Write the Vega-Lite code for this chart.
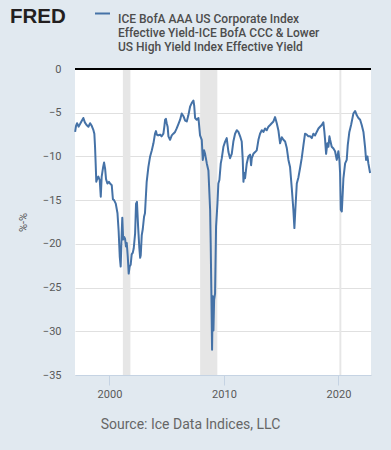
{
  "$schema": "https://vega.github.io/schema/vega-lite/v6.json",
  "width": 296,
  "height": 306,
  "autosize": {"type": "none"},
  "padding": {"left": 75, "top": 69, "right": 20, "bottom": 75},
  "background": "#e1e9f0",
  "config": {
    "font": "Roboto",
    "view": {"fill": "white", "stroke": null}
  },
  "title": {
    "text": "FRED",
    "anchor": "start",
    "frame": "group",
    "dx": -65,
    "dy": 24,
    "offset": -14,
    "baseline": "alphabetic",
    "font": "Liberation Sans",
    "fontSize": 20.5,
    "fontWeight": "bold",
    "color": "#231f20"
  },
  "datasets": {
    "series": [
      {"year": 1997.00, "value": -7.2},
      {"year": 1997.08, "value": -6.5},
      {"year": 1997.17, "value": -6.2},
      {"year": 1997.30, "value": -6.6},
      {"year": 1997.43, "value": -6.3},
      {"year": 1997.55, "value": -6.0},
      {"year": 1997.72, "value": -5.6},
      {"year": 1997.85, "value": -6.1},
      {"year": 1998.00, "value": -6.4},
      {"year": 1998.16, "value": -6.6},
      {"year": 1998.31, "value": -6.2},
      {"year": 1998.45, "value": -6.5},
      {"year": 1998.60, "value": -7.0},
      {"year": 1998.68, "value": -7.4},
      {"year": 1998.74, "value": -8.9},
      {"year": 1998.80, "value": -11.0},
      {"year": 1998.85, "value": -12.9},
      {"year": 1998.95, "value": -12.5},
      {"year": 1999.03, "value": -12.3},
      {"year": 1999.15, "value": -12.7},
      {"year": 1999.24, "value": -14.6},
      {"year": 1999.32, "value": -12.3},
      {"year": 1999.45, "value": -11.2},
      {"year": 1999.53, "value": -10.7},
      {"year": 1999.62, "value": -11.4},
      {"year": 1999.70, "value": -12.6},
      {"year": 1999.82, "value": -13.1},
      {"year": 1999.95, "value": -12.9},
      {"year": 2000.05, "value": -13.1},
      {"year": 2000.20, "value": -13.3},
      {"year": 2000.30, "value": -14.9},
      {"year": 2000.40, "value": -15.0},
      {"year": 2000.55, "value": -15.4},
      {"year": 2000.70, "value": -16.5},
      {"year": 2000.80, "value": -18.5},
      {"year": 2000.90, "value": -21.5},
      {"year": 2000.98, "value": -22.6},
      {"year": 2001.05, "value": -19.5},
      {"year": 2001.12, "value": -17.0},
      {"year": 2001.20, "value": -19.5},
      {"year": 2001.28, "value": -19.2},
      {"year": 2001.36, "value": -19.4},
      {"year": 2001.44, "value": -20.3},
      {"year": 2001.51, "value": -19.9},
      {"year": 2001.60, "value": -21.5},
      {"year": 2001.68, "value": -23.4},
      {"year": 2001.76, "value": -22.6},
      {"year": 2001.85, "value": -22.4},
      {"year": 2001.94, "value": -21.2},
      {"year": 2002.04, "value": -21.0},
      {"year": 2002.12, "value": -20.5},
      {"year": 2002.24, "value": -18.8},
      {"year": 2002.32, "value": -15.4},
      {"year": 2002.40, "value": -15.2},
      {"year": 2002.50, "value": -18.0},
      {"year": 2002.61, "value": -20.5},
      {"year": 2002.68, "value": -21.6},
      {"year": 2002.73, "value": -21.3},
      {"year": 2002.82, "value": -19.0},
      {"year": 2002.91, "value": -18.3},
      {"year": 2003.02, "value": -16.9},
      {"year": 2003.10, "value": -16.5},
      {"year": 2003.25, "value": -12.9},
      {"year": 2003.40, "value": -11.2},
      {"year": 2003.55, "value": -10.0},
      {"year": 2003.70, "value": -9.3},
      {"year": 2003.84, "value": -8.5},
      {"year": 2003.98, "value": -7.4},
      {"year": 2004.06, "value": -7.1},
      {"year": 2004.13, "value": -7.5},
      {"year": 2004.25, "value": -7.6},
      {"year": 2004.42, "value": -7.5},
      {"year": 2004.55, "value": -7.7},
      {"year": 2004.71, "value": -7.4},
      {"year": 2004.80, "value": -6.5},
      {"year": 2004.86, "value": -5.8},
      {"year": 2004.93, "value": -5.7},
      {"year": 2005.00, "value": -6.2},
      {"year": 2005.08, "value": -6.6},
      {"year": 2005.15, "value": -7.7},
      {"year": 2005.29, "value": -8.1},
      {"year": 2005.44, "value": -7.6},
      {"year": 2005.58, "value": -7.4},
      {"year": 2005.73, "value": -7.2},
      {"year": 2005.87, "value": -6.8},
      {"year": 2006.02, "value": -6.3},
      {"year": 2006.17, "value": -5.8},
      {"year": 2006.31, "value": -5.1},
      {"year": 2006.46, "value": -5.4},
      {"year": 2006.61, "value": -5.9},
      {"year": 2006.75, "value": -6.0},
      {"year": 2006.89, "value": -5.3},
      {"year": 2007.04, "value": -4.3},
      {"year": 2007.18, "value": -3.9},
      {"year": 2007.33, "value": -3.6},
      {"year": 2007.40, "value": -4.2},
      {"year": 2007.48, "value": -5.6},
      {"year": 2007.62, "value": -5.8},
      {"year": 2007.77, "value": -5.6},
      {"year": 2007.91, "value": -7.6},
      {"year": 2008.06, "value": -8.1},
      {"year": 2008.15, "value": -10.4},
      {"year": 2008.26, "value": -9.3},
      {"year": 2008.35, "value": -9.7},
      {"year": 2008.50, "value": -10.8},
      {"year": 2008.64, "value": -11.6},
      {"year": 2008.79, "value": -16.1},
      {"year": 2008.84, "value": -19.9},
      {"year": 2008.90, "value": -25.7},
      {"year": 2008.96, "value": -32.1},
      {"year": 2009.02, "value": -26.0},
      {"year": 2009.08, "value": -29.9},
      {"year": 2009.14, "value": -26.4},
      {"year": 2009.22, "value": -25.7},
      {"year": 2009.31, "value": -18.0},
      {"year": 2009.43, "value": -15.4},
      {"year": 2009.51, "value": -13.1},
      {"year": 2009.60, "value": -12.7},
      {"year": 2009.72, "value": -10.8},
      {"year": 2009.81, "value": -10.2},
      {"year": 2009.95, "value": -8.9},
      {"year": 2010.10, "value": -8.3},
      {"year": 2010.24, "value": -7.9},
      {"year": 2010.39, "value": -9.5},
      {"year": 2010.53, "value": -10.2},
      {"year": 2010.68, "value": -9.7},
      {"year": 2010.82, "value": -8.3},
      {"year": 2010.97, "value": -7.4},
      {"year": 2011.12, "value": -7.0},
      {"year": 2011.26, "value": -7.2},
      {"year": 2011.41, "value": -7.7},
      {"year": 2011.55, "value": -8.3},
      {"year": 2011.64, "value": -10.4},
      {"year": 2011.70, "value": -12.9},
      {"year": 2011.78, "value": -11.9},
      {"year": 2011.84, "value": -12.5},
      {"year": 2011.99, "value": -10.8},
      {"year": 2012.13, "value": -10.0},
      {"year": 2012.28, "value": -9.8},
      {"year": 2012.37, "value": -11.0},
      {"year": 2012.43, "value": -10.2},
      {"year": 2012.57, "value": -9.7},
      {"year": 2012.72, "value": -9.5},
      {"year": 2012.86, "value": -9.3},
      {"year": 2013.01, "value": -8.1},
      {"year": 2013.15, "value": -7.4},
      {"year": 2013.30, "value": -7.0},
      {"year": 2013.44, "value": -7.2},
      {"year": 2013.59, "value": -6.8},
      {"year": 2013.74, "value": -7.0},
      {"year": 2013.88, "value": -6.6},
      {"year": 2014.03, "value": -6.4},
      {"year": 2014.17, "value": -6.2},
      {"year": 2014.32, "value": -6.0},
      {"year": 2014.46, "value": -5.5},
      {"year": 2014.61, "value": -6.2},
      {"year": 2014.75, "value": -7.0},
      {"year": 2014.90, "value": -8.5},
      {"year": 2015.05, "value": -7.8},
      {"year": 2015.19, "value": -8.1},
      {"year": 2015.34, "value": -8.3},
      {"year": 2015.48, "value": -9.0},
      {"year": 2015.63, "value": -10.4},
      {"year": 2015.77, "value": -11.2},
      {"year": 2015.92, "value": -13.6},
      {"year": 2016.06, "value": -16.1},
      {"year": 2016.15, "value": -18.2},
      {"year": 2016.24, "value": -15.9},
      {"year": 2016.36, "value": -13.1},
      {"year": 2016.50, "value": -12.4},
      {"year": 2016.65, "value": -11.3},
      {"year": 2016.79, "value": -10.2},
      {"year": 2016.94, "value": -8.7},
      {"year": 2017.08, "value": -7.4},
      {"year": 2017.23, "value": -7.5},
      {"year": 2017.37, "value": -7.7},
      {"year": 2017.52, "value": -7.7},
      {"year": 2017.67, "value": -7.9},
      {"year": 2017.81, "value": -7.4},
      {"year": 2017.96, "value": -7.6},
      {"year": 2018.10, "value": -7.2},
      {"year": 2018.25, "value": -6.8},
      {"year": 2018.39, "value": -6.6},
      {"year": 2018.54, "value": -6.4},
      {"year": 2018.68, "value": -6.1},
      {"year": 2018.77, "value": -7.2},
      {"year": 2018.83, "value": -8.1},
      {"year": 2018.92, "value": -9.7},
      {"year": 2019.03, "value": -8.5},
      {"year": 2019.12, "value": -8.9},
      {"year": 2019.21, "value": -7.7},
      {"year": 2019.27, "value": -8.1},
      {"year": 2019.41, "value": -8.9},
      {"year": 2019.56, "value": -9.1},
      {"year": 2019.70, "value": -9.4},
      {"year": 2019.85, "value": -10.4},
      {"year": 2019.99, "value": -9.4},
      {"year": 2020.08, "value": -10.4},
      {"year": 2020.14, "value": -11.9},
      {"year": 2020.20, "value": -16.1},
      {"year": 2020.29, "value": -16.3},
      {"year": 2020.37, "value": -14.2},
      {"year": 2020.43, "value": -12.5},
      {"year": 2020.58, "value": -10.8},
      {"year": 2020.72, "value": -10.4},
      {"year": 2020.81, "value": -8.7},
      {"year": 2020.95, "value": -7.2},
      {"year": 2021.10, "value": -6.4},
      {"year": 2021.30, "value": -5.1},
      {"year": 2021.45, "value": -4.8},
      {"year": 2021.60, "value": -5.3},
      {"year": 2021.74, "value": -5.6},
      {"year": 2021.89, "value": -5.8},
      {"year": 2022.03, "value": -6.4},
      {"year": 2022.18, "value": -7.2},
      {"year": 2022.32, "value": -8.9},
      {"year": 2022.41, "value": -10.4},
      {"year": 2022.53, "value": -10.0},
      {"year": 2022.61, "value": -10.8},
      {"year": 2022.76, "value": -11.9}
    ],
    "recessions": [
      {"year": 2001.17, "end": 2001.83},
      {"year": 2007.92, "end": 2009.42},
      {"year": 2020.08, "end": 2020.25}
    ]
  },
  "layer": [
    {
      "data": {"name": "recessions"},
      "mark": {"type": "rect", "color": "#e6e6e6"},
      "encoding": {
        "x": {
          "field": "year", "type": "quantitative",
          "scale": {"domain": [1996.99, 2022.84], "nice": false, "zero": false},
          "axis": {
            "title": "Source: Ice Data Indices, LLC",
            "values": [2000, 2010, 2020], "format": "d",
            "grid": false, "domainColor": "#c5d3e3", "tickColor": "#c5d3e3",
            "tickSize": 10, "labelPadding": 3, "labelFontSize": 11, "labelColor": "#595959",
            "titleFontSize": 14, "titleFontWeight": "normal", "titleColor": "#666666",
            "titleX": 115, "titleY": 49, "titleBaseline": "middle"
          }
        },
        "x2": {"field": "end"}
      }
    },
    {
      "data": {"name": "series"},
      "mark": {"type": "line", "strokeWidth": 2, "strokeJoin": "round"},
      "encoding": {
        "x": {
          "field": "year", "type": "quantitative",
          "scale": {"domain": [1996.99, 2022.84], "nice": false, "zero": false},
          "axis": {
            "title": "Source: Ice Data Indices, LLC",
            "values": [2000, 2010, 2020], "format": "d",
            "grid": false, "domainColor": "#c5d3e3", "tickColor": "#c5d3e3",
            "tickSize": 10, "labelPadding": 3, "labelFontSize": 11, "labelColor": "#595959",
            "titleFontSize": 14, "titleFontWeight": "normal", "titleColor": "#666666",
            "titleX": 115, "titleY": 49, "titleBaseline": "middle"
          }
        },
        "y": {
          "field": "value", "type": "quantitative",
          "scale": {"domain": [-35, 0], "nice": false},
          "axis": {
            "title": "%-%", "values": [-35, -30, -25, -20, -15, -10, -5, 0],
            "grid": true, "gridColor": "#e0e0e0", "domain": false, "ticks": false,
            "labelPadding": 14, "labelFontSize": 11, "labelColor": "#595959",
            "titleFontSize": 11, "titleFontWeight": "normal", "titleColor": "#595959",
            "titlePadding": 14
          }
        },
        "color": {
          "datum": "ICE BofA AAA US Corporate Index Effective Yield-ICE BofA CCC & Lower US High Yield Index Effective Yield",
          "type": "nominal",
          "scale": {"range": ["#4572a7"]},
          "legend": {
            "orient": "none", "legendX": 19, "legendY": -64, "title": null,
            "symbolType": "stroke", "symbolStrokeWidth": 2, "symbolSize": 225,
            "labelExpr": "['ICE BofA AAA US Corporate Index', 'Effective Yield-ICE BofA CCC & Lower', 'US High Yield Index Effective Yield']",
            "labelFontSize": 12, "labelFontWeight": 500, "labelColor": "#4d4d4d",
            "labelLimit": 0, "labelOffset": 7, "labelBaseline": "top"
          }
        }
      }
    },
    {
      "data": {"values": [{}]},
      "mark": {"type": "rule", "color": "black", "strokeWidth": 2},
      "encoding": {"y": {"datum": 0}}
    }
  ]
}
